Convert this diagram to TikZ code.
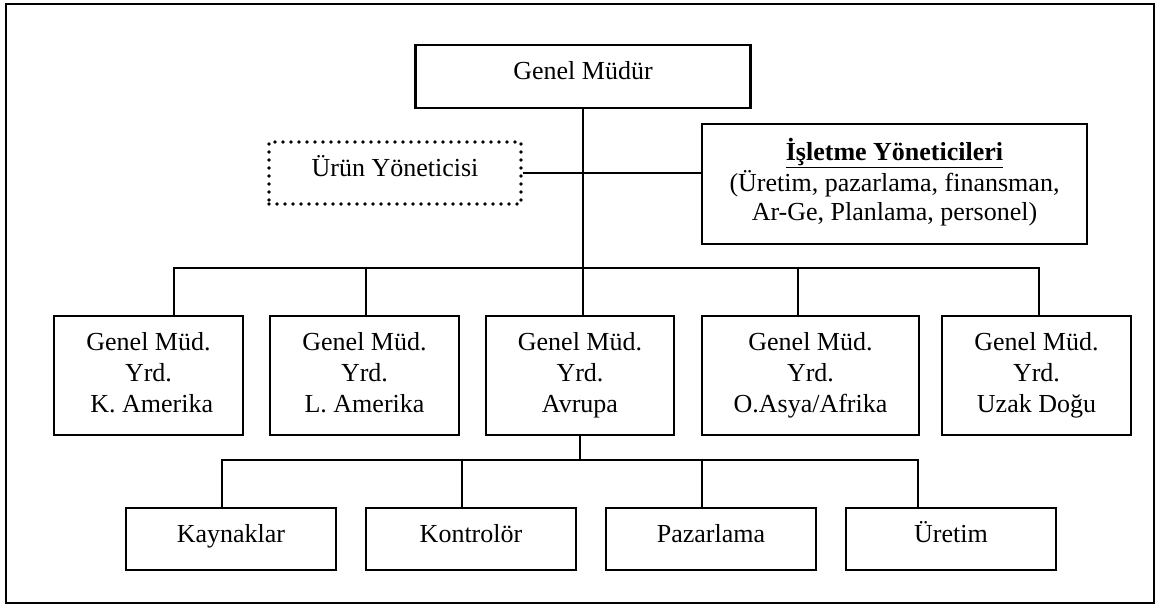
\documentclass[tikz,border=0pt]{standalone}
\usepackage{fontspec}
\setmainfont{Liberation Serif}
\newcommand{\boxline}[1]{#1\strut}
\begin{document}
\begin{tikzpicture}[x=1pt,y=-1pt,
  box/.style={draw,line width=2.1pt,inner sep=0pt,align=center,
    font=\fontsize{26}{31}\selectfont},
  onebox/.style={box,text height=15pt,text depth=9pt},
  dotbox/.style={onebox,line width=3.8pt,dash pattern=on 0pt off 8pt,line cap=round},
  link/.style={line width=2.1pt}]
\useasboundingbox (0,0) rectangle (1160,606);
% outer frame
\draw[line width=2pt] (5.5,3.5) rectangle (1153.5,602.5);

% top level
\node[onebox,minimum width=335pt,minimum height=63pt] (gm) at (583,76.5) {Genel Müdür};
\node[dotbox,minimum width=252pt,minimum height=62pt] (urun) at (395,173) {Ürün Yöneticisi};
\node[box,minimum width=385pt,minimum height=120pt,font=\fontsize{26}{29.5}\selectfont] (isl) at (894.5,184)
  {\boxline{\underline{\textbf{İşletme Yöneticileri}}}\\\boxline{(Üretim, pazarlama, finansman,}\\\boxline{Ar-Ge, Planlama, personel)}};

% regional deputies
\foreach \n/\x/\w/\t in {y1/148.5/189/{\ K. Amerika},
                         y2/364.5/189/{L. Amerika},
                         y3/580/188/{Avrupa},
                         y4/810.5/217/{O.Asya/Afrika},
                         y5/1036.5/189/{Uzak Doğu}}
  \node[box,minimum width=\w pt,minimum height=119pt] (\n) at (\x,375.5)
    {\boxline{Genel Müd.}\\\boxline{Yrd.}\\\boxline{\t}};

% departments
\foreach \n/\x/\t in {k1/231/Kaynaklar,k2/471/Kontrolör,k3/711/Pazarlama,k4/951/Üretim}
  \node[onebox,minimum width=210pt,minimum height=62pt] (\n) at (\x,539) {\t};

% trunk and staff line
\draw[link] (gm.south) -- (gm.south |- y3.north);
\draw[link] (urun.east) -- (urun.east -| isl.west);

% bus to the regional deputies
\coordinate (b1) at (174,268);
\coordinate (b2) at (366,268);
\coordinate (b4) at (798,268);
\coordinate (b5) at (1039,268);
\draw[link] (b1 |- y1.north) -- (b1) -- (b5) -- (b5 |- y5.north);
\draw[link] (b2) -- (b2 |- y2.north);
\draw[link] (b4) -- (b4 |- y4.north);

% bus to the departments
\coordinate (c1) at (222,460);
\coordinate (c2) at (462,460);
\coordinate (c3) at (702,460);
\coordinate (c4) at (918,460);
\draw[link] (y3.south) -- (y3.south |- c1);
\draw[link] (c1 |- k1.north) -- (c1) -- (c4) -- (c4 |- k4.north);
\draw[link] (c2) -- (c2 |- k2.north);
\draw[link] (c3) -- (c3 |- k3.north);
\end{tikzpicture}
\end{document}
